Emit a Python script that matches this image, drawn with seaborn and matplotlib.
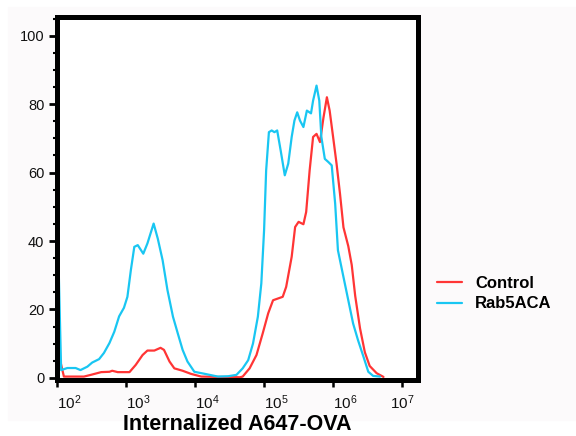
import numpy as np
import pandas as pd
import matplotlib
matplotlib.use("Agg")
import matplotlib.pyplot as plt
from matplotlib.patches import Rectangle
from matplotlib.ticker import FixedLocator, MultipleLocator, NullFormatter
import seaborn as sns

# histogram traces: log10(intensity) and % of max
control_log10 = [2.01, 2.10, 2.39, 2.49, 2.64, 2.76, 2.80, 2.88, 3.05, 3.14,
                 3.24, 3.31, 3.41, 3.50, 3.55, 3.63, 3.70, 3.82, 3.94, 4.09,
                 4.65, 4.69, 4.79, 4.89, 4.98, 5.06, 5.13, 5.20, 5.27, 5.32,
                 5.40, 5.45, 5.50, 5.57, 5.61, 5.66, 5.71, 5.76, 5.81, 5.86,
                 5.91, 5.95, 6.00, 6.05, 6.10, 6.15, 6.22, 6.27, 6.32, 6.39,
                 6.46, 6.53, 6.63, 6.73]
control_pct = [8.2, 0.4, 0.4, 0.9, 1.7, 1.8, 2.1, 1.7, 1.7, 3.8,
               6.7, 8.0, 8.0, 8.8, 8.2, 4.8, 2.8, 2.1, 1.2, 0.4,
               0.2, 0.4, 2.8, 6.7, 13.0, 18.9, 22.7, 23.2, 23.7, 26.6,
               35.4, 44.1, 45.6, 44.9, 48.5, 60.6, 70.4, 71.3, 68.9, 76.0,
               82.0, 78.1, 70.4, 62.6, 53.8, 44.0, 38.5, 33.0, 24.0, 14.5,
               7.5, 3.5, 1.4, 0.3]

rab5_log10 = [2.00, 2.06, 2.15, 2.27, 2.34, 2.44, 2.51, 2.61, 2.68, 2.76,
              2.83, 2.90, 2.97, 3.02, 3.07, 3.12, 3.17, 3.25, 3.31, 3.40,
              3.46, 3.53, 3.60, 3.68, 3.75, 3.82, 3.89, 3.99, 4.14, 4.33,
              4.48, 4.60, 4.69, 4.77, 4.84, 4.91, 4.96, 5.00, 5.03, 5.07,
              5.11, 5.15, 5.19, 5.24, 5.30, 5.35, 5.40, 5.44, 5.48, 5.52,
              5.57, 5.62, 5.68, 5.71, 5.76, 5.80, 5.83, 5.88, 5.93, 5.98,
              6.03, 6.07, 6.15, 6.22, 6.29, 6.36, 6.44, 6.51, 6.58, 6.68]
rab5_pct = [52.0, 2.3, 2.9, 2.9, 2.3, 3.3, 4.5, 5.5, 7.3, 10.2,
            13.5, 18.0, 20.5, 23.7, 31.5, 38.3, 38.8, 36.3, 39.3, 45.1,
            40.7, 34.4, 25.7, 17.9, 13.0, 8.2, 4.8, 1.8, 1.2, 0.4,
            0.5, 0.9, 2.8, 5.2, 10.1, 17.9, 27.6, 43.1, 60.6, 71.8,
            72.3, 71.8, 72.3, 66.5, 59.2, 62.6, 70.4, 75.2, 77.6, 75.2,
            73.3, 78.1, 77.3, 81.0, 85.4, 81.0, 70.4, 64.0, 63.1, 62.1,
            50.9, 37.3, 29.5, 22.7, 15.9, 11.1, 6.2, 1.8, 0.6, 0.4]

samples = ["Control", "Rab5ACA"]
colors = {"Control": "#FF3535", "Rab5ACA": "#19C6F2"}
decades = [2, 3, 4, 5, 6, 7]

df = pd.concat([
    pd.DataFrame({"intensity": 10 ** np.array(control_log10), "pct": control_pct, "sample": "Control"}),
    pd.DataFrame({"intensity": 10 ** np.array(rab5_log10), "pct": rab5_pct, "sample": "Rab5ACA"}),
])

sns.set_style("ticks")
plt.rcParams["font.family"] = ["Liberation Sans", "DejaVu Sans"]
plt.rcParams["mathtext.fontset"] = "custom"
plt.rcParams["mathtext.rm"] = "Liberation Sans"
plt.rcParams["mathtext.it"] = "Liberation Sans"

fig = plt.figure(figsize=(5.76, 4.36), dpi=100, facecolor="white")
fig.patches.append(Rectangle((8 / 576, 1 - 420 / 436), 568 / 576, 413 / 436,
                             transform=fig.transFigure, color="#fcfafb", zorder=-10))
ax = fig.add_axes([57 / 576, 1 - 380 / 436, 361 / 576, 362.5 / 436])
ax.set_facecolor("white")

sns.lineplot(data=df, x="intensity", y="pct", hue="sample", hue_order=samples,
             palette=colors, estimator=None, sort=False, linewidth=1.6, ax=ax)

ax.set_xscale("log")
ax.set_xlim(1e2, 10 ** 7.23)
ax.set_ylim(-0.6, 105.3)

# x axis ticks
ax.xaxis.set_major_locator(FixedLocator([10.0 ** d for d in decades]))
minors = [m * 10.0 ** d for d in decades[:-1] for m in range(2, 10)]
ax.xaxis.set_minor_locator(FixedLocator(minors))
ax.xaxis.set_minor_formatter(NullFormatter())
ax.set_xticklabels([f"$10^{{{d}}}$" for d in decades])
for i, lab in enumerate(ax.get_xticklabels()):
    lab.set_horizontalalignment("center" if i == len(decades) - 1 else "left")

# y axis ticks
ax.yaxis.set_major_locator(FixedLocator([0, 20, 40, 60, 80, 100]))
ax.yaxis.set_minor_locator(MultipleLocator(5))

ax.tick_params(axis="x", which="major", length=5, width=1.8, pad=5, labelsize=11,
               color="black", labelcolor="#111111")
ax.tick_params(axis="x", which="minor", length=2.5, width=1.2, color="black")
ax.tick_params(axis="y", which="major", length=6, width=2, pad=3, labelsize=10.5,
               color="black", labelcolor="#111111")
ax.tick_params(axis="y", which="minor", length=3, width=1.5, color="black")

for side in ["left", "right", "top", "bottom"]:
    ax.spines[side].set_visible(True)
    ax.spines[side].set_linewidth(3.6)
    ax.spines[side].set_color("black")

ax.set_xlabel("Internalized A647-OVA", fontsize=15.5, fontweight="bold", labelpad=1, color="black")
ax.set_ylabel("")

handles, labels = ax.get_legend_handles_labels()
ax.get_legend().remove()
fig.legend(handles, labels, loc="center left", bbox_to_anchor=(437 / 576, 1 - 293.5 / 436),
           frameon=False, prop={"size": 12, "weight": "bold"}, handlelength=1.5,
           handletextpad=0.8, labelspacing=0.35, borderpad=0, borderaxespad=0,
           labelcolor="black")

fig.savefig("out.png", dpi=100, facecolor=fig.get_facecolor())
